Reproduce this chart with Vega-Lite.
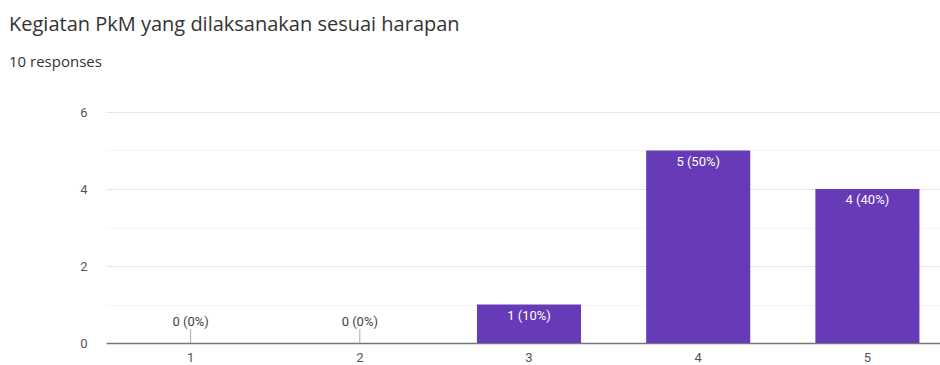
{
  "$schema": "https://vega.github.io/schema/vega-lite/v6.json",
  "autosize": "none",
  "width": 846,
  "height": 231,
  "padding": {"left": 106, "top": 112, "right": 0, "bottom": 22},
  "background": "white",
  "config": {
    "font": "Roboto",
    "view": {"stroke": null}
  },
  "title": {
    "text": "Kegiatan PkM yang dilaksanakan sesuai harapan",
    "subtitle": "10 responses",
    "anchor": "start",
    "frame": "group",
    "dx": -97,
    "offset": 36,
    "font": "Open Sans",
    "subtitleFont": "Open Sans",
    "fontSize": 20,
    "fontWeight": "normal",
    "color": "#333333",
    "subtitleFontSize": 15,
    "subtitleColor": "#333333",
    "subtitlePadding": 20
  },
  "data": {
    "values": [
      {"answer": "1", "count": 0, "label": "0 (0%)"},
      {"answer": "2", "count": 0, "label": "0 (0%)"},
      {"answer": "3", "count": 1, "label": "1 (10%)"},
      {"answer": "4", "count": 5, "label": "5 (50%)"},
      {"answer": "5", "count": 4, "label": "4 (40%)"}
    ]
  },
  "encoding": {
    "x": {
      "field": "answer",
      "type": "nominal",
      "scale": {"paddingInner": 0.385},
      "axis": {
        "title": null,
        "labelAngle": 0,
        "ticks": false,
        "domainColor": "#777777",
        "domainWidth": 1.5,
        "labelFontSize": 13,
        "labelColor": "#555555",
        "labelPadding": 8
      }
    },
    "y": {
      "field": "count",
      "type": "quantitative",
      "scale": {"domain": [0, 6], "nice": false},
      "axis": {
        "title": null,
        "values": [0, 1, 2, 3, 4, 5, 6],
        "labelExpr": "datum.value % 2 === 0 ? datum.label : ''",
        "ticks": false,
        "domain": false,
        "labelPadding": 19,
        "labelFontSize": 13,
        "labelColor": "#555555",
        "gridColor": {"condition": {"test": "datum.value % 2 === 1", "value": "#f5f5f5"}, "value": "#e6e6e6"}
      }
    }
  },
  "layer": [
    {
      "mark": {"type": "bar", "color": "#673ab7"}
    },
    {
      "transform": [{"filter": "datum.count === 0"}],
      "mark": {"type": "rule", "color": "#aaaaaa", "strokeWidth": 1},
      "encoding": {"y": {"datum": 0}, "y2": {"datum": 0.36}}
    },
    {
      "transform": [{"filter": "datum.count > 0"}],
      "mark": {"type": "text", "baseline": "top", "dy": 5, "fontSize": 13, "color": "white"},
      "encoding": {"text": {"field": "label"}}
    },
    {
      "transform": [{"filter": "datum.count === 0"}],
      "mark": {"type": "text", "baseline": "bottom", "dy": -14, "fontSize": 13, "color": "#444444"},
      "encoding": {"text": {"field": "label"}}
    }
  ]
}
